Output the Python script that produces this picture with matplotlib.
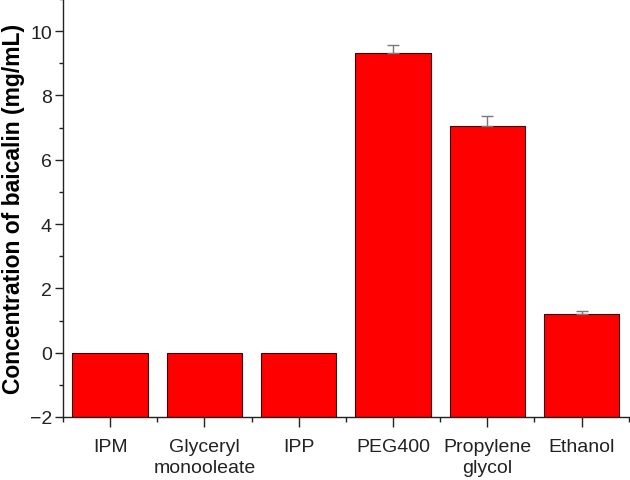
import matplotlib
matplotlib.use("Agg")
import matplotlib.pyplot as plt
from matplotlib.ticker import MultipleLocator, FixedLocator
import numpy as np

categories = ["IPM", "Glyceryl\nmonooleate", "IPP", "PEG400", "Propylene\nglycol", "Ethanol"]
values = [0.0, 0.0, 0.0, 9.33, 7.05, 1.2]
errors = [0.0, 0.0, 0.0, 0.25, 0.3, 0.11]
baseline = -2

plt.rcParams['font.family'] = ['Liberation Sans', 'DejaVu Sans']

fig = plt.figure(figsize=(6.3, 4.81), dpi=100)
ax = fig.add_axes([0.1, 0.131, 0.898, 0.869])

x = np.arange(len(categories))
vals = np.array(values)
ax.bar(x, vals - baseline, bottom=baseline, width=0.8, color="#ff0000",
       edgecolor="#3a0000", linewidth=0.8, zorder=2)
mask = np.array(errors) > 0
ax.errorbar(x[mask], vals[mask], yerr=[np.zeros(mask.sum()), np.array(errors)[mask]],
            fmt="none", ecolor="#7a7a7a", elinewidth=1.0, capsize=4, capthick=1.0, zorder=3)

ax.set_xlim(-0.5, 5.5)
ax.set_ylim(-2, 11)
ax.set_yticks([-2, 0, 2, 4, 6, 8, 10])
ax.set_yticklabels(["\u22122", "0", "2", "4", "6", "8", "10"])
ax.yaxis.set_minor_locator(MultipleLocator(1))
ax.set_xticks(x)
ax.set_xticklabels(categories, fontsize=14, linespacing=1.35)
ax.xaxis.set_minor_locator(FixedLocator(np.arange(-0.5, 6.0, 1.0)))

ax.spines['top'].set_visible(False)
ax.spines['right'].set_visible(False)
for s in ['left', 'bottom']:
    ax.spines[s].set_linewidth(1.0)
    ax.spines[s].set_color("#222222")

ax.tick_params(axis='y', which='major', direction='out', length=6, width=1.0, labelsize=14, colors="#222222", pad=2)
ax.tick_params(axis='y', which='minor', direction='out', length=3, width=1.0, colors="#222222")
ax.tick_params(axis='x', which='major', direction='out', length=7, width=1.0, labelsize=14, colors="#222222", pad=8)
ax.tick_params(axis='x', which='minor', direction='out', length=3.5, width=1.0, colors="#222222")

ax.set_ylabel("Concentration of baicalin (mg/mL)", fontsize=16.5, fontweight='bold', labelpad=3)

fig.savefig("out.png", dpi=100)
